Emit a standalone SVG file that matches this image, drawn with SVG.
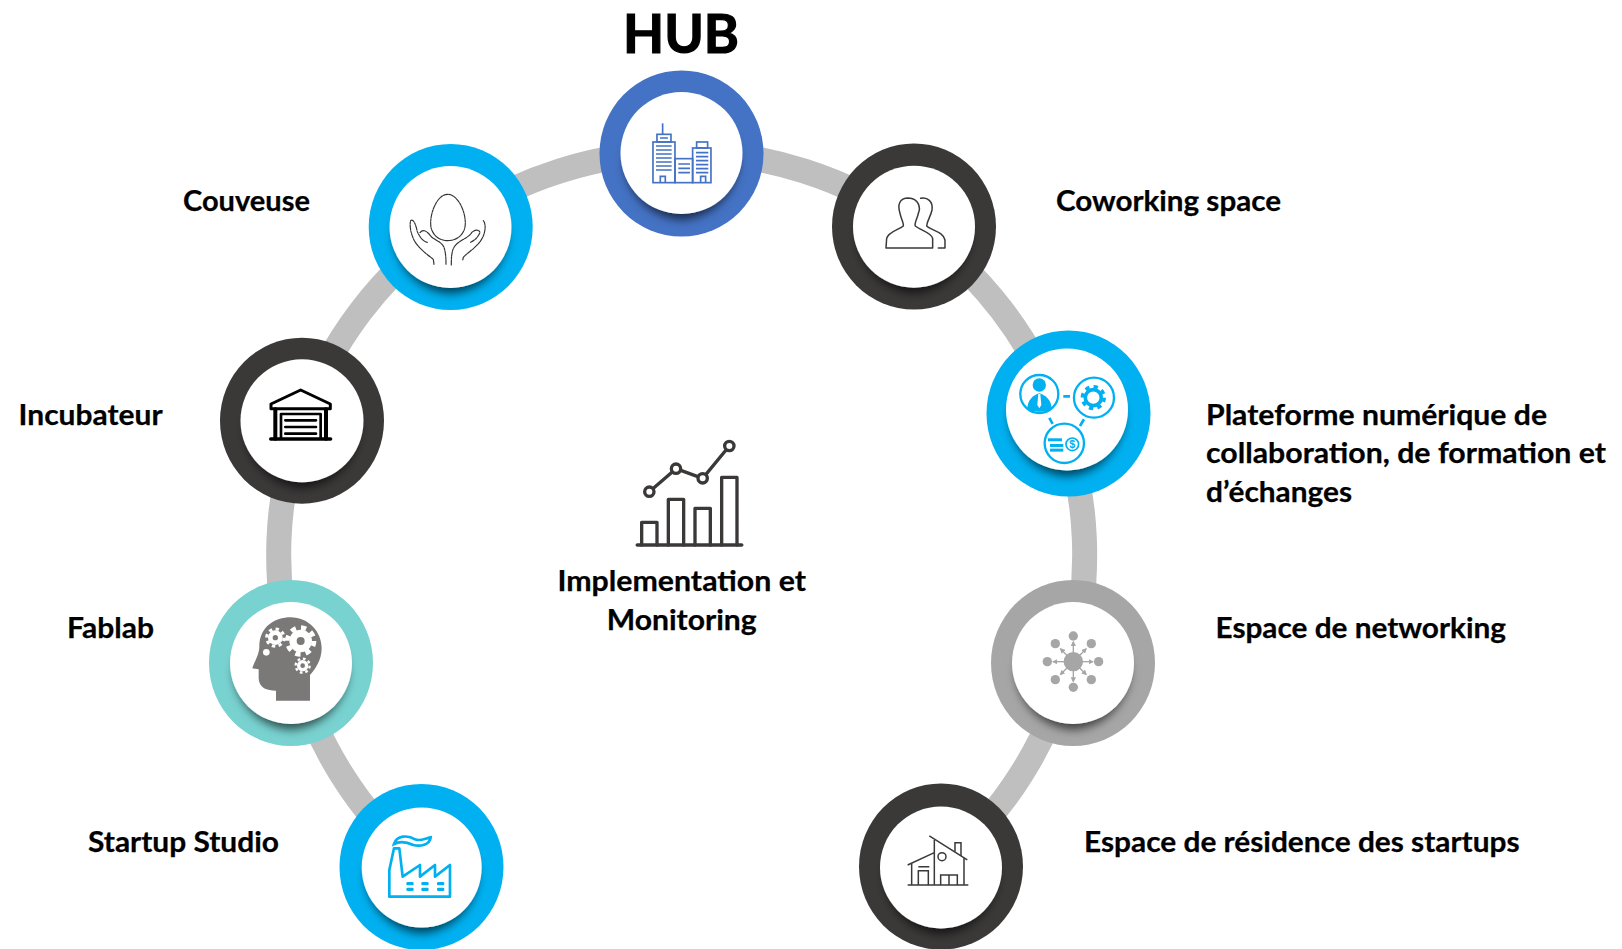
<svg xmlns="http://www.w3.org/2000/svg" width="1622" height="949" viewBox="0 0 1622 949">
<style>
.conn{fill:none;stroke:#bfbfbf;stroke-width:25}
.inner{fill:#fff;filter:url(#sh)}
.lbl{font-family:"Lato","Open Sans","Liberation Sans",sans-serif;font-weight:700;font-size:28.5px;fill:#000;stroke:#000;stroke-width:.25}
.ln{fill:none;stroke-linecap:round;stroke-linejoin:round}
</style>
<defs>
<filter id="sh" x="-30%" y="-30%" width="160%" height="170%">
<feMorphology in="SourceAlpha" operator="erode" radius="4" result="e"/>
<feGaussianBlur in="e" stdDeviation="5" result="b"/>
<feOffset in="b" dx="0" dy="10" result="o"/>
<feFlood flood-color="#000" flood-opacity=".62"/>
<feComposite in2="o" operator="in" result="s"/>
<feMerge><feMergeNode in="s"/><feMergeNode in="SourceGraphic"/></feMerge>
</filter>
<marker id="ah" markerWidth="4" markerHeight="4" refX="3" refY="2" orient="auto"><path d="M0 0L4 2L0 4Z" fill="#a6a6a6"/></marker>
</defs>
<rect width="1622" height="949" fill="#fff"/>
<g id="connectors">
<path class="conn" d="M421.5 867A404 404 0 0 1 293.2 662.4"/>
<path class="conn" d="M293.2 662.4A403 403 0 0 1 301.8 420.6"/>
<path class="conn" d="M301.8 420.6A403 403 0 0 1 449.7 225.5"/>
<path class="conn" d="M449.7 225.5A403 403 0 0 1 681.7 152"/>
<path class="conn" d="M681.7 152A403 403 0 0 1 914.4 226"/>
<path class="conn" d="M914.4 226A403 403 0 0 1 1060.1 416.6"/>
<path class="conn" d="M1060.1 416.6A403 403 0 0 1 1070.2 662.2"/>
<path class="conn" d="M1070.2 662.2A404 404 0 0 1 941 866.5"/>
</g>

<g id="hub">
<ellipse cx="681.5" cy="153.5" rx="82" ry="83" fill="#4472c4"/>
<circle class="inner" cx="681.5" cy="153" r="61"/>
<g transform="translate(340 50) scale(.3333)" fill="none" stroke="#4472c4" stroke-width="5">
<rect x="939" y="276" width="66" height="122"/><rect x="951" y="253" width="42" height="23"/><path d="M968 220V253"/>
<rect x="1005" y="326" width="53" height="72"/><rect x="1058" y="294" width="55" height="104"/><rect x="1070" y="276" width="33" height="18"/>
<path d="M948 288H995M948 300H995M948 312H995M948 324H995M948 336H995M948 348H995M948 360H995M960 264H984"/>
<path d="M1068 308H1105M1068 320H1105M1068 332H1105M1068 344H1105M1068 356H1105M1068 368H1105"/>
<path d="M1015 342H1050M1015 355H1050M1015 368H1050"/>
<path d="M961 398V379H976V398M1082 398V379H1097V398"/>
</g>
<text x="681" y="52.5" text-anchor="middle" textLength="116" lengthAdjust="spacingAndGlyphs" style="font-family:'Lato','Open Sans','Liberation Sans',sans-serif;font-weight:700;font-size:53px;fill:#000;stroke:#000;stroke-width:1.2">HUB</text>
</g>

<g id="couveuse">
<ellipse cx="450.7" cy="227" rx="82" ry="83" fill="#00b0f0"/>
<circle class="inner" cx="450.5" cy="227" r="61"/>
<g transform="translate(340 50) scale(.3333)" class="ln" stroke="#333" stroke-width="3.5" stroke-dasharray="14 3 6 3">
<path d="M323 433C295 433 272 480 272 520C272 552 295 572 323 572C352 572 376 552 376 520C376 480 352 433 323 433Z"/>
<path d="M282 643L280 628C260 612 235 595 222 570C212 550 208 525 212 512C220 505 228 525 232 545C238 560 250 575 262 577M240 548C250 535 262 545 272 558C285 572 305 575 312 592C318 610 318 630 318 645"/>
<path d="M334 645C334 620 335 600 345 588C355 572 385 565 395 548C405 538 418 538 420 548C412 565 402 572 392 577M430 512C438 520 437 545 428 562C415 590 385 605 370 622L368 632"/>
</g>
<text class="lbl" x="183" y="211" textLength="127" lengthAdjust="spacingAndGlyphs">Couveuse</text>
</g>

<g id="coworking">
<ellipse cx="914" cy="226.5" rx="82" ry="83" fill="#3b3838"/>
<circle class="inner" cx="914" cy="226.7" r="61"/>
<g transform="translate(820 130) scale(.3333)" class="ln" stroke="#3b3838" stroke-width="4.5">
<path d="M198 354H338V325C335 308 300 300 286 288C282 280 292 265 295 250C302 235 298 205 265 204C238 204 232 225 240 250C243 265 252 280 250 288C235 300 205 305 200 325Z"/>
<path d="M302 205C322 200 340 215 336 240C332 260 322 270 320 288C335 302 370 305 375 330V354H355"/>
</g>
<text class="lbl" x="1056" y="211" textLength="225" lengthAdjust="spacingAndGlyphs">Coworking space</text>
</g>

<g id="plateforme">
<ellipse cx="1068.5" cy="413.5" rx="82" ry="83" fill="#00b0f0"/>
<circle class="inner" cx="1067" cy="409.5" r="61"/>
<g transform="translate(820 130) scale(.3333)">
<g fill="none" stroke="#00b0f0" stroke-width="7">
<circle cx="658" cy="792" r="57"/><circle cx="822" cy="803" r="60"/><circle cx="733" cy="940" r="59"/>
<path d="M730 799H750M688 864L698 882M792 868L780 888" stroke-width="8"/>
<circle cx="820" cy="803" r="24" stroke-width="11"/>
<circle cx="820" cy="803" r="33" stroke-width="10" stroke-dasharray="13 12.9"/>
<circle cx="757" cy="943" r="19" stroke-width="5"/>
</g>
<circle cx="658" cy="765" r="20" fill="#00b0f0"/>
<path d="M622 838C622 810 640 795 658 790C676 795 695 810 695 838C680 848 638 848 622 838Z" fill="#00b0f0"/>
<path d="M655 792H661L664 825L658 835L652 825Z" fill="#fff"/>
<rect x="684" y="925" width="42" height="9" fill="#00b0f0"/><rect x="690" y="942" width="40" height="9" fill="#00b0f0"/><rect x="690" y="956" width="40" height="9" fill="#00b0f0"/>
<text x="757" y="955" text-anchor="middle" style="font-family:'Liberation Sans',sans-serif;font-weight:700;font-size:32px;fill:#00b0f0">$</text>
</g>
<text class="lbl" x="1206" y="425" textLength="341" lengthAdjust="spacingAndGlyphs">Plateforme numérique de</text>
<text class="lbl" x="1206" y="463" textLength="400" lengthAdjust="spacingAndGlyphs">collaboration, de formation et</text>
<text class="lbl" x="1206" y="501.7" textLength="146" lengthAdjust="spacingAndGlyphs">d’échanges</text>
</g>

<g id="incubateur">
<ellipse cx="302" cy="420.7" rx="82" ry="83" fill="#3b3838"/>
<circle class="inner" cx="302" cy="420.7" r="61.5"/>
<g transform="translate(200 330) scale(.3333)" class="ln" stroke="#000">
<path d="M213 236V222L302 180L391 222V236Z" fill="#fff" stroke-width="9"/>
<path d="M226 238V326M378 238V326" stroke-width="12"/>
<path d="M243 326V252H362V326" stroke-width="8"/>
<path d="M256 271H348M256 291H348M256 311H348" stroke-width="8"/>
<path d="M212 327H392" stroke-width="10"/>
</g>
<text class="lbl" x="18.6" y="425" textLength="144" lengthAdjust="spacingAndGlyphs">Incubateur</text>
</g>

<g id="fablab">
<ellipse cx="291" cy="663" rx="82" ry="83" fill="#78d2d0"/>
<circle class="inner" cx="291" cy="663" r="61"/>
<g transform="translate(200 330) scale(.3333)">
<path d="M228 1112V1082C200 1082 178 1075 176 1045V1018L157 1015C160 1000 178 975 178 950C178 890 225 862 272 862C325 862 365 905 365 955C365 990 345 1020 330 1035V1112Z" fill="#7b7878"/>
<g fill="none" stroke="#fff">
<circle cx="302" cy="933" r="40" stroke-width="14" stroke-dasharray="15.7"/>
<circle cx="302" cy="933" r="23" stroke-width="22"/>
<circle cx="226" cy="923" r="26" stroke-width="9" stroke-dasharray="10.2"/>
<circle cx="226" cy="923" r="15" stroke-width="14"/>
<circle cx="308" cy="1007" r="21" stroke-width="7" stroke-dasharray="8.25"/>
<circle cx="308" cy="1007" r="12" stroke-width="10"/>
</g>
<circle cx="199" cy="967" r="10" fill="#fff"/>
</g>
<text class="lbl" x="67" y="638" textLength="87" lengthAdjust="spacingAndGlyphs">Fablab</text>
</g>

<g id="startup-studio">
<ellipse cx="421.5" cy="867" rx="82" ry="83" fill="#00b0f0"/>
<circle class="inner" cx="421.7" cy="867.5" r="60"/>
<g transform="translate(330 780) scale(.3333)" fill="none" stroke="#00b0f0" stroke-width="8">
<path d="M178 350V270L192 205H208L218 290L270 255V290L315 255V290L360 255V350Z" stroke-linejoin="round"/>
<path d="M192 192C200 165 235 165 255 178C270 185 285 175 302 172C300 195 270 200 250 195C235 188 215 180 192 192Z"/>
<g fill="#00b0f0" stroke="none">
<rect x="229" y="306" width="22" height="10" rx="4"/><rect x="274" y="306" width="22" height="10" rx="4"/><rect x="321" y="306" width="22" height="10" rx="4"/>
<rect x="229" y="323" width="22" height="10" rx="4"/><rect x="274" y="323" width="22" height="10" rx="4"/><rect x="321" y="323" width="22" height="10" rx="4"/>
</g>
</g>
<text class="lbl" x="88" y="852" textLength="191" lengthAdjust="spacingAndGlyphs">Startup Studio</text>
</g>

<g id="networking">
<ellipse cx="1073" cy="663" rx="82" ry="83" fill="#a6a6a6"/>
<circle class="inner" cx="1073" cy="663" r="61"/>
<g transform="translate(850 570) scale(.3333)" fill="#a6a6a6">
<g stroke="#a6a6a6" stroke-width="4" fill="none">
<path d="M670 275V216" marker-end="url(#ah)"/><path d="M670 275L708 237" marker-end="url(#ah)"/><path d="M670 275H728" marker-end="url(#ah)"/><path d="M670 275L708 313" marker-end="url(#ah)"/>
<path d="M670 275V334" marker-end="url(#ah)"/><path d="M670 275L632 313" marker-end="url(#ah)"/><path d="M670 275H610" marker-end="url(#ah)"/><path d="M670 275L632 237" marker-end="url(#ah)"/>
</g>
<circle cx="670" cy="275" r="29"/>
<circle cx="670" cy="198" r="14"/><circle cx="724" cy="221" r="14"/><circle cx="746" cy="275" r="14"/><circle cx="724" cy="329" r="14"/>
<circle cx="670" cy="352" r="14"/><circle cx="616" cy="329" r="14"/><circle cx="592" cy="275" r="14"/><circle cx="616" cy="221" r="14"/>
</g>
<text class="lbl" x="1215.5" y="638" textLength="290.5" lengthAdjust="spacingAndGlyphs">Espace de networking</text>
</g>

<g id="residence">
<ellipse cx="941" cy="866.5" rx="82" ry="83" fill="#3b3838"/>
<circle class="inner" cx="941" cy="867.5" r="61"/>
<g transform="translate(850 570) scale(.3333)" fill="none" stroke="#3b3838" stroke-width="4.5">
<path d="M173 945H355M238 798L352 870M253 810V945M342 862V945M173 885L253 848M185 880V945"/>
<path d="M205 945V902H235V945M205 890H238M272 945V915H322V945M297 915V945"/>
<circle cx="276" cy="860" r="12"/><path d="M315 845V818H333V858"/>
</g>
<text class="lbl" x="1084" y="852" textLength="435.6" lengthAdjust="spacingAndGlyphs">Espace de résidence des startups</text>
</g>

<g id="implementation">
<g transform="translate(620 430) scale(.3333)" class="ln" stroke="#3b3838" stroke-width="10">
<path d="M52 345H365" stroke-width="11"/>
<path d="M65 345V277H111V345M145 345V208H191V345M225 345V235H271V345M305 345V142H351V345"/>
<path d="M88 185L168 116L248 145L328 48"/>
<g fill="#fff"><circle cx="88" cy="185" r="14"/><circle cx="168" cy="116" r="14"/><circle cx="248" cy="145" r="14"/><circle cx="328" cy="48" r="14"/></g>
</g>
<text class="lbl" x="681.7" y="591" text-anchor="middle" textLength="248.5" lengthAdjust="spacingAndGlyphs">Implementation et</text>
<text class="lbl" x="681.7" y="630" text-anchor="middle" textLength="150" lengthAdjust="spacingAndGlyphs">Monitoring</text>
</g>
</svg>
